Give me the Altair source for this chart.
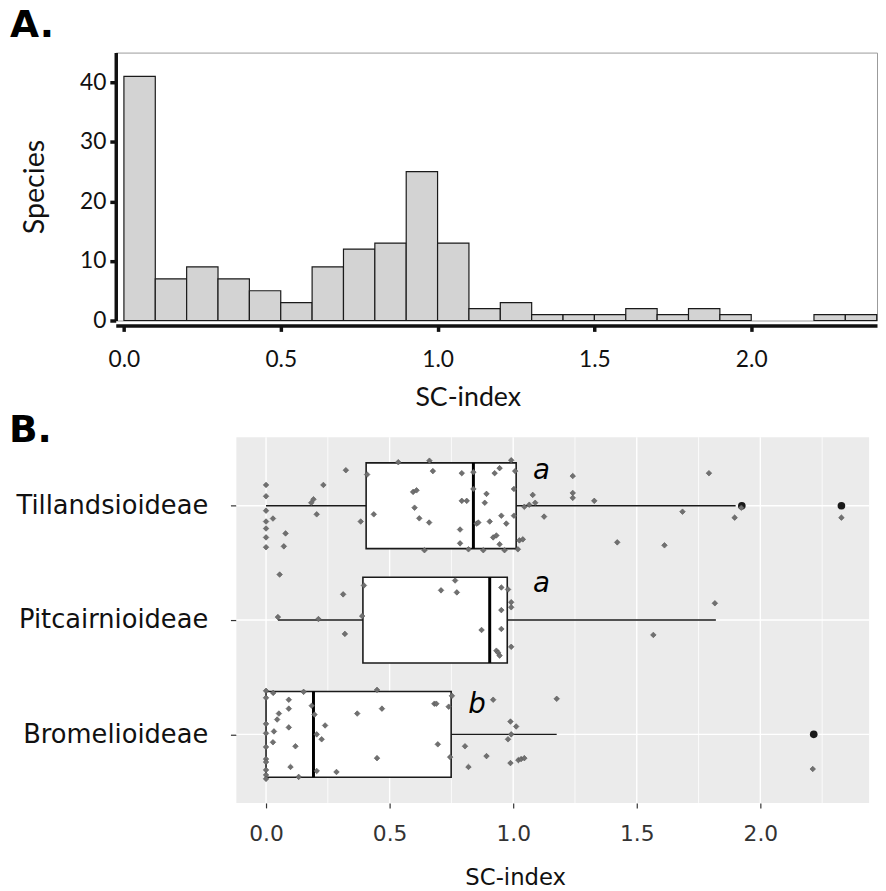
import altair as alt
import pandas as pd

# ---------------- Panel A data (histogram) ----------------
bin_start = [0.0, 0.1, 0.2, 0.3, 0.4, 0.5, 0.6, 0.7, 0.8, 0.9, 1.0, 1.1, 1.2, 1.3,
             1.4, 1.5, 1.6, 1.7, 1.8, 1.9, 2.2, 2.3]
bin_count = [41, 7, 9, 7, 5, 3, 9, 12, 13, 25, 13, 2, 3, 1, 1, 1, 2, 1, 2, 1, 1, 1]
bin_width = 0.1
hist_x_ticks = [0.0, 0.5, 1.0, 1.5, 2.0]
hist_y_ticks = [0, 10, 20, 30, 40]

# ---------------- Panel B data (box plot + jitter) ----------------
groups = ["Tillandsioideae", "Pitcairnioideae", "Bromelioideae"]
group_pos = [1, 2, 3]
box_q1 = [0.405, 0.392, 0.0]
box_med = [0.839, 0.905, 0.192]
box_q3 = [1.012, 0.976, 0.749]
whisk_lo = [0.0, 0.048, 0.0]
whisk_hi = [1.90, 1.82, 1.176]

outlier_x = [1.925, 2.328, 2.216]
outlier_pos = [1, 1, 3]

til_x = [0.0, 0.0, 0.0, 0.028, 0.0, 0.0, 0.0, 0.079, 0.0, 0.072, 0.192, 0.183, 0.232, 0.205,
         0.323, 0.383, 0.409, 0.436, 0.535, 0.595, 0.609, 0.601, 0.620, 0.660, 0.641, 0.661,
         0.675, 0.792, 0.792, 0.812, 0.785, 0.785, 0.819, 0.839, 0.839, 0.852, 0.859, 0.879,
         0.892, 0.885, 0.905, 0.925, 0.945, 0.952, 0.972, 0.919, 0.932, 0.945, 0.965, 0.992,
         1.008, 1.003, 1.003, 1.019, 1.025, 1.039, 1.045, 1.065, 1.079, 1.089, 1.125, 1.241,
         1.241, 1.241, 1.328, 1.421, 1.612, 1.685, 1.792, 1.896, 1.923, 2.328]
til_j = [-0.182, -0.083, 0.043, 0.112, 0.138, 0.199, 0.277, 0.242, 0.363, 0.355, -0.057, -0.026,
         -0.182, 0.075, -0.311, 0.138, -0.273, 0.075, -0.381, -0.121, -0.135, 0.017, 0.110, 0.147,
         0.389, -0.394, -0.303, -0.285, -0.043, -0.043, 0.208, 0.329, 0.381, -0.294, -0.147, 0.156,
         0.147, 0.389, -0.104, -0.026, 0.138, -0.285, -0.329, 0.087, 0.156, 0.277, 0.260, 0.337,
         0.389, -0.398, -0.303, -0.147, 0.087, 0.381, 0.303, 0.294, 0.009, -0.009, -0.095, -0.026,
         0.095, -0.260, -0.112, -0.069, -0.043, 0.320, 0.346, 0.052, -0.285, 0.104, 0.017, 0.104]

pit_x = [0.055, 0.048, 0.212, 0.312, 0.319, 0.396, 0.389, 0.708, 0.765, 0.772, 0.872, 0.952,
         0.979, 0.992, 0.992, 0.952, 0.952, 0.992, 0.932, 0.939, 0.945, 1.816, 1.567]
pit_j = [-0.398, -0.026, -0.009, -0.225, 0.121, -0.303, -0.035, -0.260, -0.346, -0.242, 0.087,
         -0.285, -0.268, -0.156, -0.112, -0.087, 0.078, 0.234, 0.268, 0.285, 0.311, -0.147, 0.130]

bro_x = [0.0, 0.0, 0.0, 0.0, 0.0, 0.0, 0.0, 0.0, 0.0, 0.0,
         0.029, 0.032, 0.028, 0.045, 0.052, 0.092, 0.092, 0.092, 0.119, 0.099, 0.132, 0.152,
         0.185, 0.196, 0.205, 0.225, 0.239, 0.205, 0.285, 0.369, 0.449, 0.469, 0.449, 0.681,
         0.689, 0.695, 0.739, 0.752, 0.745, 0.805, 0.819, 0.892, 0.919, 0.989, 1.012, 0.992,
         0.979, 0.989, 1.021, 1.032, 1.045, 1.176, 2.212]
bro_j = [-0.381, -0.320, -0.092, -0.009, 0.110, 0.216, 0.242, 0.311, 0.355, 0.389,
         -0.363, -0.026, 0.069, -0.130, -0.182, -0.303, -0.225, -0.061, 0.104, 0.285, 0.372,
         -0.372, -0.251, -0.173, 0.0, 0.043, -0.078, 0.320, 0.329, -0.182, -0.389, -0.225,
         0.208, -0.268, -0.268, 0.087, -0.242, -0.337, 0.199, 0.104, 0.285, 0.190, -0.303,
         -0.112, -0.069, 0.0, 0.043, 0.251, 0.225, 0.216, 0.208, -0.311, 0.303]

letters = ["a", "a", "b"]
letter_x = [1.114, 1.114, 0.854]
letter_pos = [1, 2, 3]
letter_off = [-0.237, -0.242, -0.187]

b_major_x = [0.0, 0.5, 1.0, 1.5, 2.0]
b_minor_x = [0.25, 0.75, 1.25, 1.75, 2.25]
b_panel_x = [-0.12, 2.44]
b_panel_y = [0.4, 3.6]

FA = "Lato"
FB = "DejaVu Sans"
INK = "#111111"

# ---------------- Panel A ----------------
hist_df = pd.DataFrame({"start": bin_start, "count": bin_count})

hist = (
    alt.Chart(hist_df)
    .transform_calculate(end=f"datum.start + {bin_width}")
    .mark_rect(fill="#d3d3d3", stroke="#1a1a1a", strokeWidth=1.2)
    .encode(
        x=alt.X("start:Q",
                scale=alt.Scale(domain=[-0.026, 2.401], nice=False, zero=False),
                axis=alt.Axis(values=hist_x_ticks, format=".1f", title="SC-index",
                              titleFont=FA, titleFontSize=27, titleFontWeight="normal",
                              titleColor=INK, labelFont=FA, labelFontSize=23, labelColor=INK,
                              domainColor=INK, domainWidth=3.5, tickColor=INK, tickWidth=3.5,
                              tickSize=6, offset=5, grid=False, labelPadding=18,
                              titlePadding=13, titleX=356)),
        x2="end:Q",
        y=alt.Y("count:Q",
                scale=alt.Scale(domain=[0, 45], nice=False),
                axis=alt.Axis(values=hist_y_ticks, title="Species", titleFont=FA,
                              titleFontSize=29, titleFontWeight="normal", titleColor=INK,
                              labelFont=FA, labelFontSize=23, labelColor=INK,
                              domainColor=INK, domainWidth=3.5, tickColor=INK, tickWidth=3.5,
                              tickSize=6, grid=False, labelPadding=4, titlePadding=30)),
        y2=alt.datum(0),
    )
    .properties(
        width=770, height=271,
        title=alt.TitleParams("A.", anchor="start", frame="group", dx=-107, offset=-22,
                              baseline="alphabetic", font=FB, fontSize=38,
                              fontWeight="bold", color="#000000"),
        view=alt.ViewBackground(stroke="#9a9a9a", strokeWidth=1),
    )
)

# ---------------- Panel B ----------------
xsB = alt.Scale(domain=[-0.608, 2.44], nice=False, zero=False)
ysB = alt.Scale(domain=[0.4, 3.6], nice=False, zero=False, reverse=True)

label_expr = ("datum.value == 1 ? '%s' : datum.value == 2 ? '%s' : '%s'"
              % (groups[0], groups[1], groups[2]))

panel_df = pd.DataFrame({"x0": [b_panel_x[0]], "x1": [b_panel_x[1]],
                         "y0": [b_panel_y[0]], "y1": [b_panel_y[1]]})

bg = alt.Chart(panel_df).mark_rect(fill="#ebebeb").encode(
    x=alt.X("x0:Q", scale=xsB,
            axis=alt.Axis(values=b_major_x, format=".1f", title="SC-index", domain=False,
                          grid=False, tickColor="#333333", tickSize=5, tickWidth=1.2,
                          labelFont=FB, labelFontSize=22, labelColor="#333333",
                          labelPadding=16, titleFont=FB, titleFontSize=23,
                          titleFontWeight="normal", titleColor=INK, titlePadding=22,
                          titleX=404)),
    x2="x1:Q",
    y=alt.Y("y0:Q", scale=ysB,
            axis=alt.Axis(values=group_pos, labelExpr=label_expr, title=None, domain=False,
                          grid=False, offset=-122, tickColor="#333333", tickSize=6,
                          tickWidth=1.2, labelFont=FB, labelFontSize=26, labelColor=INK,
                          labelPadding=23, labelLimit=600)),
    y2="y1:Q",
)

gmaj = alt.Chart(pd.DataFrame({"gx": b_major_x})).mark_rule(
    color="white", strokeWidth=1.4).encode(x="gx:Q")
gmin = alt.Chart(pd.DataFrame({"gx": b_minor_x})).mark_rule(
    color="white", strokeWidth=0.8).encode(x="gx:Q")
ghor = alt.Chart(pd.DataFrame({"gy": group_pos, "x0": [b_panel_x[0]] * 3,
                               "x1": [b_panel_x[1]] * 3})).mark_rule(
    color="white", strokeWidth=1.4).encode(y="gy:Q", x="x0:Q", x2="x1:Q")

box_df = pd.DataFrame({"pos": group_pos, "q1": box_q1, "med": box_med, "q3": box_q3,
                       "lo": whisk_lo, "hi": whisk_hi})

whisk = alt.Chart(box_df).mark_rule(color="#1a1a1a", strokeWidth=1.4).encode(
    x="lo:Q", x2="hi:Q", y="pos:Q")
boxes = (
    alt.Chart(box_df)
    .transform_calculate(top="datum.pos - 0.375", bot="datum.pos + 0.375")
    .mark_rect(fill="white", stroke="#1a1a1a", strokeWidth=1.6)
    .encode(x="q1:Q", x2="q3:Q", y="top:Q", y2="bot:Q")
)
meds = (
    alt.Chart(box_df)
    .transform_calculate(top="datum.pos - 0.375", bot="datum.pos + 0.375")
    .mark_rule(color="#000000", strokeWidth=3)
    .encode(x="med:Q", y="top:Q", y2="bot:Q")
)

out_df = pd.DataFrame({"x": outlier_x, "pos": outlier_pos})
outl = alt.Chart(out_df).mark_point(shape="circle", filled=True, size=60, color="#1a1a1a",
                                    opacity=1).encode(x="x:Q", y="pos:Q")

pts_df = pd.concat([
    pd.DataFrame({"x": til_x, "cat": group_pos[0], "jit": til_j}),
    pd.DataFrame({"x": pit_x, "cat": group_pos[1], "jit": pit_j}),
    pd.DataFrame({"x": bro_x, "cat": group_pos[2], "jit": bro_j}),
], ignore_index=True)

pts = (
    alt.Chart(pts_df)
    .transform_calculate(yy="datum.cat + datum.jit")
    .mark_point(shape="diamond", filled=True, size=32, fill="#707070", stroke="#555555",
                strokeWidth=0.6, opacity=1)
    .encode(x="x:Q", y="yy:Q")
)

let_df = pd.DataFrame({"t": letters, "x": letter_x, "cat": letter_pos, "off": letter_off})
lets = (
    alt.Chart(let_df)
    .transform_calculate(yy="datum.cat + datum.off")
    .mark_text(font=FB, fontSize=28, fontStyle="italic", color="#000000", align="center",
               baseline="alphabetic")
    .encode(x="x:Q", y="yy:Q", text="t:N")
)

panelB = alt.layer(bg, gmin, gmaj, ghor, whisk, boxes, meds, outl, pts, lets).properties(
    width=762, height=370,
    title=alt.TitleParams("B.", anchor="start", frame="group", dx=-108, offset=-44,
                          baseline="alphabetic", font=FB, fontSize=38,
                          fontWeight="bold", color="#000000"),
    view=alt.ViewBackground(stroke="transparent"),
)

chart = alt.vconcat(hist, panelB, spacing=0).properties(
    padding={"left": 0, "top": -7, "right": 0, "bottom": 0}
)

chart.save("out.html", embed_options={"renderer": "svg", "actions": False})
